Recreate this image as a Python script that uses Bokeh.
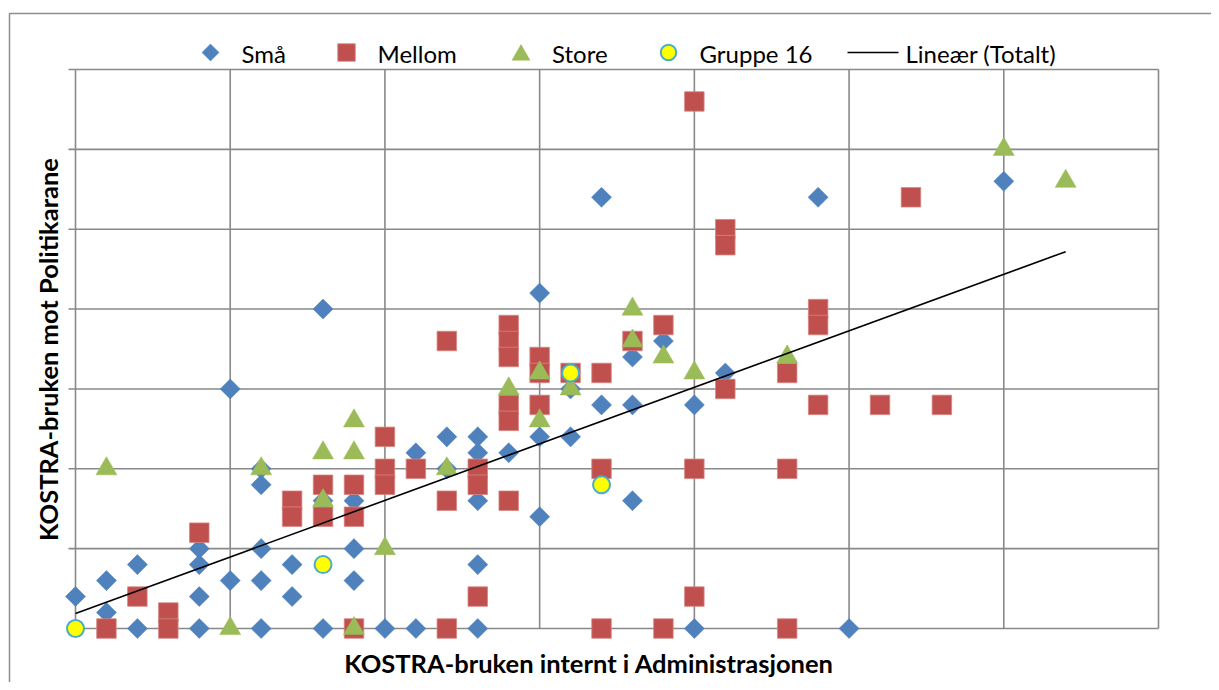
import numpy as np
from bokeh.plotting import figure
from bokeh.models import Range1d
from bokeh.core.properties import value
from bokeh.embed import file_html
from bokeh.resources import INLINE

# ---- data (one grid cell = 0.5) ----
sma_x = [0.5, 0.6, 0.6, 1.1, 0.8, 0.9, 0.6, 0.9, 0.4, 0.4, 0.2, 0.1, 0.5, 0.6, 0.7, 0.9,
         0.0, 0.4, 0.7, 0.1, 0.2, 0.4, 0.6, 0.8, 1.0, 1.1, 0.8, 1.7, 1.5, 2.4, 3.0, 2.5,
         1.2, 1.3, 1.3, 1.4, 1.2, 1.3, 1.5, 1.6, 1.5, 1.3, 1.7, 1.8, 1.8, 1.9, 1.6, 2.0,
         2.1, 1.8, 1.3, 2.0]
sma_y = [1.5, 1.0, 0.9, 1.1, 0.8, 0.8, 0.5, 0.5, 0.5, 0.4, 0.4, 0.3, 0.3, 0.3, 0.4, 0.3,
         0.2, 0.2, 0.2, 0.1, 0.0, 0.0, 0.0, 0.0, 0.0, 0.0, 2.0, 2.7, 2.1, 2.7, 2.8, 0.0,
         1.2, 1.2, 1.1, 1.1, 1.0, 0.8, 1.2, 1.2, 0.7, 0.4, 1.4, 1.4, 1.7, 1.8, 1.5, 1.4,
         1.6, 0.8, 0.0, 0.0]

mellom_x = [0.4, 0.2, 0.3, 0.3, 0.1, 0.9, 0.7, 0.7, 0.8, 0.8, 0.9, 0.9, 1.0, 1.0, 1.0,
            1.1, 1.2, 1.4, 1.4, 1.4, 1.5, 1.5, 1.5, 1.6, 1.7, 1.8, 1.9, 1.4, 1.4, 1.3,
            1.3, 1.2, 1.4, 1.7, 2.0, 2.3, 1.3, 2.0, 1.2, 1.7, 1.9, 2.3, 2.1, 2.3, 2.1,
            2.1, 2.0, 2.7, 2.4, 2.4, 2.4, 2.6, 2.8]
mellom_y = [0.6, 0.2, 0.1, 0.0, 0.0, 0.0, 0.8, 0.7, 0.9, 0.7, 0.9, 0.7, 1.2, 1.0, 0.9,
            1.0, 1.8, 1.9, 1.8, 1.7, 1.7, 1.6, 1.4, 1.6, 1.6, 1.8, 1.9, 1.4, 1.3, 1.0,
            0.9, 0.8, 0.8, 1.0, 1.0, 1.0, 0.2, 0.2, 0.0, 0.0, 0.0, 0.0, 1.5, 1.6, 2.5,
            2.4, 3.3, 2.7, 2.0, 1.9, 1.4, 1.4, 1.4]

store_x = [0.1, 0.6, 0.8, 0.9, 0.9, 0.8, 1.0, 0.5, 0.9, 1.2, 1.4, 1.5, 1.5, 1.6, 1.8,
           1.9, 2.0, 2.3, 1.8, 3.0, 3.2]
store_y = [1.0, 1.0, 1.1, 1.3, 1.1, 0.8, 0.5, 0.0, 0.0, 1.0, 1.5, 1.6, 1.3, 1.5, 1.8,
           1.7, 1.6, 1.7, 2.0, 3.0, 2.8]

gruppe_x = [0.0, 0.8, 1.6, 1.7]
gruppe_y = [0.0, 0.4, 1.6, 0.9]

# linear trend of the total (as drawn in the picture)
trend_intercept = 0.094
trend_slope = 0.708

series_names = ["Små", "Mellom", "Store", "Gruppe 16", "Lineær (Totalt)"]
x_title = "KOSTRA-bruken internt i Administrasjonen"
y_title = "KOSTRA-bruken mot Politikarane"
grid_ticks = [0.0, 0.5, 1.0, 1.5, 2.0, 2.5, 3.0, 3.5]
x_max = 3.5
y_max = 3.5

# ---- layout (pixel positions on the canvas) ----
W, H = 1211, 682
PX_L, PX_R, PY_T, PY_B = 75, 1158, 69, 628


def dx(px):
    return (px - PX_L) / (PX_R - PX_L) * x_max


def dy(py):
    return (PY_B - py) / (PY_B - PY_T) * y_max


GRID = "#898989"
p = figure(width=W, height=H, x_range=Range1d(dx(0), dx(W)), y_range=Range1d(dy(H), dy(0)),
           output_backend="svg", toolbar_location=None,
           min_border_left=0, min_border_right=0, min_border_top=0, min_border_bottom=0)
p.axis.visible = False
p.grid.visible = False
p.outline_line_color = None
p.background_fill_color = "white"
p.border_fill_color = "white"

# outer chart border
p.line([dx(9), dx(9), dx(W + 5)], [dy(H + 5), dy(13), dy(13)], line_color="#8e8e8e",
       line_width=1.5)

# grid, plot frame and y ticks
n = len(grid_ticks)
p.segment(x0=grid_ticks, y0=[0] * n, x1=grid_ticks, y1=[y_max] * n,
          line_color=GRID, line_width=1.6)
p.segment(x0=[0] * n, y0=grid_ticks, x1=[x_max] * n, y1=grid_ticks,
          line_color=GRID, line_width=1.6)
p.segment(x0=[dx(PX_L - 7)] * n, y0=grid_ticks, x1=[0] * n, y1=grid_ticks,
          line_color=GRID, line_width=1.6)

# series
C_SMA, C_MEL, C_STO = "#4F81BD", "#C0504D", "#9BBB59"
p.scatter(sma_x, sma_y, marker="square", size=14.2, angle=np.pi / 4,
          fill_color=C_SMA, line_color=C_SMA, line_width=0.5)
p.scatter(mellom_x, mellom_y, marker="square", size=19.5,
          fill_color=C_MEL, line_color="#D48683", line_width=0.8)
p.scatter(store_x, store_y, marker="triangle", size=21,
          fill_color=C_STO, line_color=C_STO, line_width=0.5)
p.scatter(gruppe_x, gruppe_y, marker="circle", size=17,
          fill_color="#FFFF00", line_color="#4BACC6", line_width=2)

all_x = np.array(sma_x + mellom_x + store_x + gruppe_x)
tx = np.array([all_x.min(), all_x.max()])
p.line(tx, trend_intercept + trend_slope * tx, line_color="black", line_width=1.6)

# legend (drawn in the space above the plot area)
LY = dy(52)
p.scatter([dx(210)], [LY], marker="square", size=12, angle=np.pi / 4,
          fill_color=C_SMA, line_color=C_SMA, line_width=0.5)
p.scatter([dx(346)], [LY], marker="square", size=17.5, fill_color=C_MEL,
          line_color="#D48683", line_width=0.8)
p.scatter([dx(520.5)], [dy(54.5)], marker="triangle", size=18, fill_color=C_STO,
          line_color=C_STO, line_width=0.5)
p.scatter([dx(668)], [LY], marker="circle", size=15.5, fill_color="#FFFF00",
          line_color="#4BACC6", line_width=2)
p.line([dx(847), dx(898)], [LY, LY], line_color="black", line_width=1.6)
p.text(x=[dx(241), dx(377), dx(551.5), dx(699), dx(905)], y=[dy(53)] * 5,
       text=series_names, text_font=value("Lato"), text_font_size="24px",
       text_color="black", text_align="left", text_baseline="middle")

# axis titles
p.text(x=[dx(588.5)], y=[dy(662)], text=[x_title], text_font=value("Lato"),
       text_font_style="bold", text_font_size="25.5px", text_color="black",
       text_align="center", text_baseline="middle")
p.text(x=[dx(47)], y=[dy(349)], text=[y_title], angle=np.pi / 2, text_font=value("Lato"),
       text_font_style="bold", text_font_size="25.5px", text_color="black",
       text_align="center", text_baseline="middle")

open("out.html", "w").write(file_html(p, INLINE))
